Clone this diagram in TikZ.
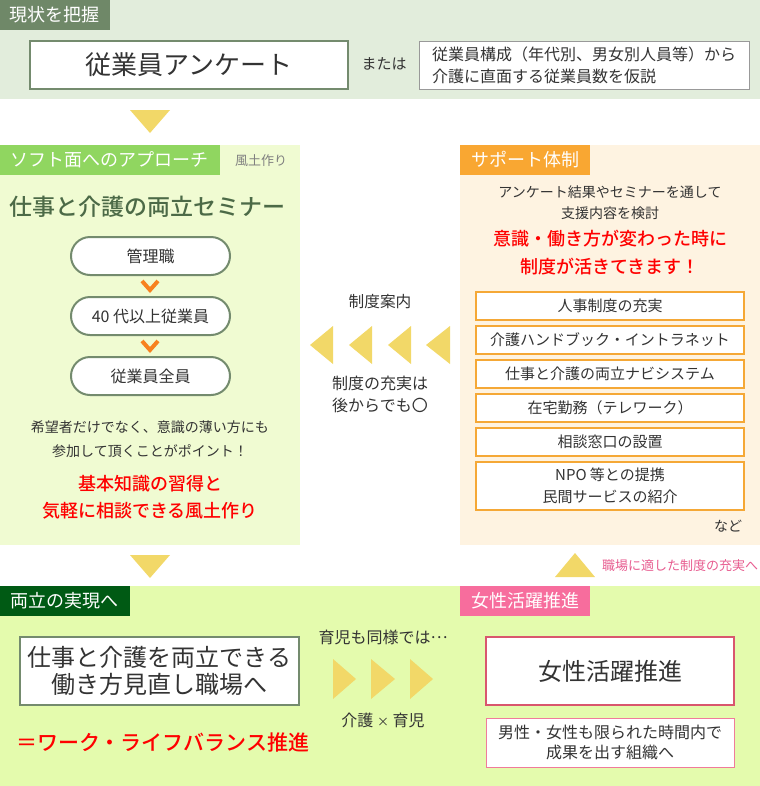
\documentclass[tikz,border=0pt]{standalone}
\usepackage{fontspec}
\setmainfont{Noto Sans CJK JP}[BoldFont={Noto Sans CJK JP Medium}]
\usepackage{xcolor}
\usetikzlibrary{positioning}

\definecolor{bandgray}{HTML}{E2EDDC}
\definecolor{taggray}{HTML}{6F8868}
\definecolor{linegray}{HTML}{748B6E}
\definecolor{arrowyellow}{HTML}{F2D868}
\definecolor{softbg}{HTML}{F0FBD2}
\definecolor{softtag}{HTML}{90D660}
\definecolor{titlegreen}{HTML}{4C6A47}
\definecolor{chevron}{HTML}{F7811F}
\definecolor{supportbg}{HTML}{FEF3E1}
\definecolor{supporttag}{HTML}{F9A732}
\definecolor{supportline}{HTML}{F5A836}
\definecolor{bottombg}{HTML}{E4FBAD}
\definecolor{darkgreen}{HTML}{005A14}
\definecolor{pinktag}{HTML}{F76D9D}
\definecolor{pinktext}{HTML}{E75C8F}
\definecolor{pinkline}{HTML}{D9566E}
\definecolor{lightpink}{HTML}{F07B9B}
\definecolor{inktext}{HTML}{333333}

\newcommand{\fs}[2]{\fontsize{#1}{#2}\selectfont}

\tikzset{
  tag/.style={fill=#1, text=white, inner sep=0pt, minimum height=22.5pt, font=\fs{13.5}{16}},
  txt/.style={inner sep=0pt, text=inktext, align=center},
  redtxt/.style={inner sep=0pt, text=red, align=center, font=\fs{13.5}{20.25}\bfseries},
  greybox/.style={draw=linegray, line width=1.5pt, fill=white, text=inktext, align=center, inner sep=0pt},
  pill/.style={greybox, rounded corners=14.25pt, minimum width=119.25pt, minimum height=28.5pt, font=\fs{12}{14}},
  offer/.style={draw=supportline, line width=0.9pt, fill=white, text=inktext, align=center, inner sep=0pt, minimum width=201pt, font=\fs{11.25}{16.5}},
  chev/.style={draw=chevron, line width=3pt},
  tri/.style={fill=arrowyellow}
}

\begin{document}
\begin{tikzpicture}[x=0.75pt,y=-0.75pt]
\useasboundingbox (0,0) rectangle (760,786);

\fill[bandgray] (0,0) rectangle (760,99);
\node[tag=taggray, minimum width=82.5pt] (nowtag) at (55,15) {現状を把握};
\node[greybox, minimum width=238.5pt, minimum height=36pt, font=\fs{19.5}{22}] (survey) at (189,65) {従業員アンケート};
\node[txt, font=\fs{11.25}{14}] (ormore) at (384,64) {または};
\node[draw=gray!80, line width=0.75pt, fill=white, text=inktext, align=left, inner sep=0pt, minimum width=247.5pt, minimum height=36pt, font=\fs{12}{16.5}] (guess) at (584,65) {従業員構成（年代別、男女別人員等）から\\介護に直面する従業員数を仮説};
\fill[tri] (130,110) -- (170,110) -- (150,133) -- cycle;

\fill[softbg] (0,145) rectangle (300,545);
\node[tag=softtag, minimum width=165pt] (softtag) at (110,160) {ソフト面へのアプローチ};
\node[txt, text=gray, font=\fs{9.75}{12}] (climate) at (261,161) {風土作り};
\node[txt, text=titlegreen, font=\fs{17.25}{20}\bfseries] (seminar) at (148,207) {仕事と介護の両立セミナー};
\node[pill] (manager) at (150.5,256) {管理職};
\node[pill] (over40) at (150.5,316) {40 代以上従業員};
\node[pill] (everyone) at (150.5,376) {従業員全員};
\draw[chev] (142,281) -- (150,290) -- (158,281);
\draw[chev] (142,341) -- (150,350) -- (158,341);
\node[txt, font=\fs{10.5}{18}] (hope) at (150,439) {希望者だけでなく、意識の薄い方にも\\参加して頂くことがポイント！};
\node[redtxt] (basics) at (150,497) {基本知識の習得と\\気軽に相談できる風土作り};

\fill[supportbg] (460,145) rectangle (760,545);
\node[tag=supporttag, minimum width=97.5pt] (suptag) at (525,160) {サポート体制};
\node[txt, font=\fs{10.5}{15.75}] (review) at (610,202.5) {アンケート結果やセミナーを通して\\支援内容を検討};
\node[redtxt, font=\fs{13.5}{21}\bfseries] (alive) at (610,253) {意識・働き方が変わった時に\\制度が活きてきます！};
\node[offer, minimum height=21pt] (hr) at (610,306) {人事制度の充実};
\node[offer, minimum height=21pt] (handbook) at (610,340) {介護ハンドブック・イントラネット};
\node[offer, minimum height=21pt] (navi) at (610,374) {仕事と介護の両立ナビシステム};
\node[offer, minimum height=21pt] (telework) at (610,408) {在宅勤務（テレワーク）};
\node[offer, minimum height=21pt] (desk) at (610,442) {相談窓口の設置};
\node[offer, minimum height=36pt] (npo) at (610,486) {NPO 等との提携\\民間サービスの紹介};
\node[txt, font=\fs{10.5}{14}] (etc) at (728,526) {など};

\node[txt, font=\fs{11.75}{14}] (guide) at (380,302) {制度案内};
\fill[tri] (310,345) -- (333,326) -- (333,364) -- cycle;
\fill[tri] (349,345) -- (372,326) -- (372,364) -- cycle;
\fill[tri] (388,345) -- (411,326) -- (411,364) -- cycle;
\fill[tri] (426,345) -- (450,326) -- (450,364) -- cycle;
\node[txt, font=\fs{12}{16.5}] (later) at (380,394) {制度の充実は\\後からでも〇};

\fill[tri] (130,555) -- (170,555) -- (150,578) -- cycle;
\fill[tri] (555,577) -- (595,577) -- (575,553) -- cycle;
\node[txt, text=pinktext, font=\fs{9.75}{12}] (fit) at (680,566) {職場に適した制度の充実へ};

\fill[bottombg] (0,586) rectangle (760,786);
\node[tag=darkgreen, minimum width=97.5pt] (balancetag) at (65,601) {両立の実現へ};
\node[tag=pinktag, minimum width=97.5pt] (womentag) at (525,601) {女性活躍推進};
\node[greybox, minimum width=209.25pt, minimum height=51pt, font=\fs{18}{20.25}] (workplace) at (159.5,671) {仕事と介護を両立できる\\働き方見直し職場へ};
\node[txt, text=red, font=\fs{15.75}{18}\bfseries] (wlb) at (163,742) {＝ワーク・ライフバランス推進};
\node[txt, font=\fs{12}{14}] (childcare) at (383,637) {育児も同様では\raisebox{0.3em}{…}};
\fill[tri] (333,659) -- (356,679) -- (333,699) -- cycle;
\fill[tri] (371,659) -- (395,679) -- (371,699) -- cycle;
\fill[tri] (410,659) -- (433,679) -- (410,699) -- cycle;
\node[txt, font=\fs{12}{14}] (both) at (383,720) {介護 {\fs{9}{14}×} 育児};
\node[draw=pinkline, line width=1.5pt, fill=white, text=inktext, inner sep=0pt, minimum width=186pt, minimum height=51pt, font=\fs{18}{20}] (women) at (610,671) {女性活躍推進};
\node[draw=lightpink, line width=0.75pt, fill=white, text=inktext, align=center, inner sep=0pt, minimum width=186pt, minimum height=36.75pt, font=\fs{12}{15}] (outcome) at (610,742.5) {男性・女性も限られた時間内で\\成果を出す組織へ};
\end{tikzpicture}
\end{document}
